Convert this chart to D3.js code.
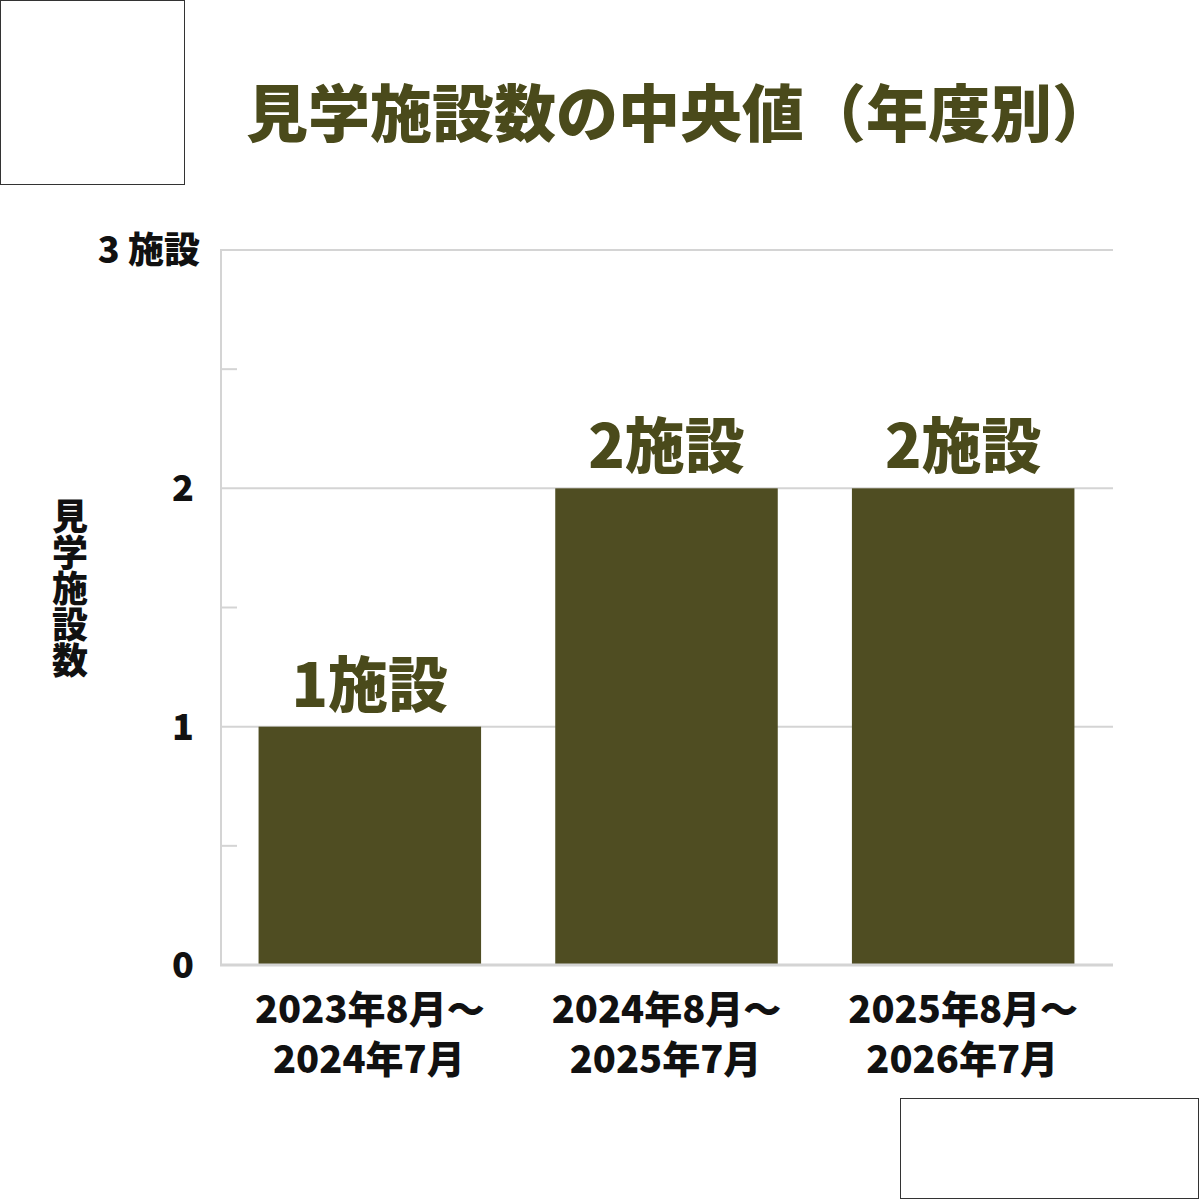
<!DOCTYPE html>
<html><head><meta charset="utf-8">
<script src="https://cdn.jsdelivr.net/npm/d3@7"></script>
<style>body{margin:0;background:#fff}</style>
</head><body><div id="chart"></div>
<script>
var periods = [["2023年8月～","2024年7月"],["2024年8月～","2025年7月"],["2025年8月～","2026年7月"]];
var values = [1, 2, 2];
var valueLabels = ["1施設", "2施設", "2施設"];
var yTicks = [0, 1, 2, 3];
var yTickLabels = ["0", "1", "2", "3 施設"];

var w = 1200, h = 1200;
var font = "'Noto Sans CJK JP', sans-serif";
var svg = d3.select("#chart").append("svg").attr("width", w).attr("height", h);

var x = d3.scaleBand().domain(d3.range(values.length))
	.range([220, 1113]).paddingInner(0.25).paddingOuter(0.13);
var y = d3.scaleLinear().domain([0, 3]).range([965, 250]);

// corner boxes
svg.append("rect").attr("x", 0.5).attr("y", 0.5).attr("width", 184).attr("height", 184)
	.attr("fill", "none").attr("stroke", "#333");
svg.append("rect").attr("x", 900.5).attr("y", 1098.5).attr("width", 298).attr("height", 100)
	.attr("fill", "none").attr("stroke", "#333");

// title
svg.append("text").attr("x", 680).attr("y", 137).attr("text-anchor", "middle")
	.style("font-family", font).style("font-weight", 900).style("font-size", "62px")
	.attr("fill", "#4a4a1b").text("見学施設数の中央値（年度別）");

// grid
svg.selectAll(".grid").data(yTicks.slice(1)).enter().append("line")
	.attr("x1", 220).attr("x2", 1113).attr("y1", d => y(d)).attr("y2", d => y(d))
	.attr("stroke", "#d4d4d4").attr("stroke-width", 2);
svg.selectAll(".minor").data([0.5, 1.5, 2.5]).enter().append("line")
	.attr("x1", 220).attr("x2", 237).attr("y1", d => y(d)).attr("y2", d => y(d))
	.attr("stroke", "#d4d4d4").attr("stroke-width", 2);
svg.append("line").attr("x1", 221).attr("x2", 221).attr("y1", y(3)).attr("y2", y(0))
	.attr("stroke", "#d4d4d4").attr("stroke-width", 2);

// bars
svg.selectAll(".bar").data(values).enter().append("rect")
	.attr("x", (d, i) => x(i)).attr("width", x.bandwidth())
	.attr("y", d => y(d)).attr("height", d => y(0) - y(d)).attr("fill", "#4f4d22");
svg.append("line").attr("x1", 220).attr("x2", 1113).attr("y1", y(0)).attr("y2", y(0))
	.attr("stroke", "#d4d4d4").attr("stroke-width", 3);

svg.selectAll(".vl").data(values).enter().append("text")
	.attr("x", (d, i) => x(i) + x.bandwidth() / 2).attr("y", d => y(d) - 20)
	.attr("text-anchor", "middle").style("font-family", font).style("font-weight", 900)
	.style("font-size", "60px").attr("fill", "#4a4a1b").text((d, i) => valueLabels[i]);

// y tick labels
svg.selectAll(".yl").data(yTicks).enter().append("text")
	.attr("x", (d, i) => i == 3 ? 200 : 194).attr("y", d => y(d) + 13)
	.attr("text-anchor", "end").style("font-family", font).style("font-weight", 900)
	.style("font-size", "36px").attr("fill", "#111").text((d, i) => yTickLabels[i]);

// y title
svg.append("text").attr("transform", "translate(70,498)")
	.style("writing-mode", "vertical-rl").style("font-family", font).style("font-weight", 900)
	.style("font-size", "36px").attr("fill", "#111").text("見学施設数");

// x labels
periods.forEach(function(p, i) {
	p.forEach(function(line, j) {
		svg.append("text").attr("x", x(i) + x.bandwidth() / 2 + (j == 0 ? 0 : -1))
			.attr("y", 1023 + j * 50).attr("text-anchor", "middle")
			.style("font-family", font).style("font-weight", 900).style("font-size", "38px")
			.attr("fill", "#111").text(line);
	});
});
</script></body></html>
